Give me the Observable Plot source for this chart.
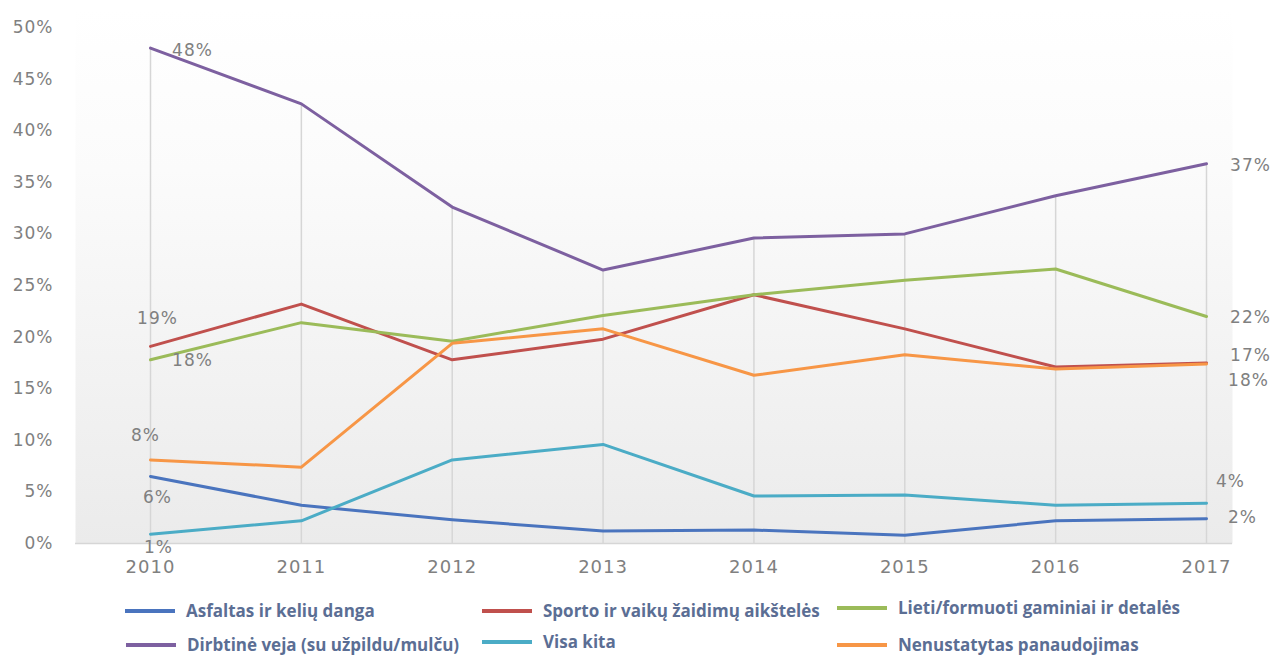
<!DOCTYPE html>
<html><head><meta charset="utf-8">
<script src="https://cdn.jsdelivr.net/npm/d3@7"></script>
<script src="https://cdn.jsdelivr.net/npm/@observablehq/plot@0.6"></script>
<style>
body{margin:0;background:#fff;}
#wrap{position:relative;width:1272px;height:657px;overflow:hidden;}
#legend{position:absolute;left:0;top:0;width:1272px;height:657px;pointer-events:none;}
.item{position:absolute;display:flex;align-items:center;height:22px;line-height:22px;font-family:"Open Sans";font-weight:700;font-size:17px;color:#5b6e94;white-space:nowrap;}
.sw{width:50px;height:4px;margin-right:11px;}
</style></head><body><div id="wrap"><div id="legend"></div></div>
<script>
// ---- data ----
const years = [2010, 2011, 2012, 2013, 2014, 2015, 2016, 2017];
const seriesNames = [
  "Asfaltas ir kelių danga",
  "Sporto ir vaikų žaidimų aikštelės",
  "Lieti/formuoti gaminiai ir detalės",
  "Dirbtinė veja (su užpildu/mulču)",
  "Visa kita",
  "Nenustatytas panaudojimas"
];
const asfaltas     = [6.5, 3.7, 2.3, 1.2, 1.3, 0.8, 2.2, 2.4];
const sporto       = [19.1, 23.2, 17.8, 19.8, 24.1, 20.8, 17.1, 17.5];
const lieti        = [17.8, 21.4, 19.6, 22.1, 24.1, 25.5, 26.6, 22.0];
const dirbtine     = [48.0, 42.6, 32.6, 26.5, 29.6, 30.0, 33.7, 36.8];
const visaKita     = [0.9, 2.2, 8.1, 9.6, 4.6, 4.7, 3.7, 3.9];
const nenustatytas = [8.1, 7.4, 19.4, 20.8, 16.3, 18.3, 16.9, 17.4];
const yTicks = [0, 5, 10, 15, 20, 25, 30, 35, 40, 45, 50];
// data labels: series index, year, text
const labelSeries = [3, 1, 2, 5, 0, 4, 3, 2, 1, 5, 4, 0];
const labelYears  = [2010, 2010, 2010, 2010, 2010, 2010, 2017, 2017, 2017, 2017, 2017, 2017];
const labelTexts  = ["48%", "19%", "18%", "8%", "6%", "1%", "37%", "22%", "17%", "18%", "4%", "2%"];

// ---- styling / layout ----
const colors = ["#4a74be", "#c0504d", "#9bbb59", "#7d60a0", "#4bacc6", "#f79646"];
const labelOffsets = [[42,2],[7,-28],[42,1],[-5,-24],[7,21],[8,13],[44,2],[44,1],[44,-7],[42,17],[24,-22],[36,-1]];

const seriesValues = [asfaltas, sporto, lieti, dirbtine, visaKita, nenustatytas];
const rows = [];
seriesValues.forEach((vals, s) => vals.forEach((v, i) => rows.push({series: seriesNames[s], year: years[i], value: v})));
const maxByYear = years.map((y, i) => d3.max(seriesValues, vals => vals[i]));

const W = 1272, H = 590;
const labelMarks = labelTexts.map((t, k) => {
  const s = labelSeries[k], yi = years.indexOf(labelYears[k]);
  return Plot.text([{x: labelYears[k], y: seriesValues[s][yi], t}], {
    x: "x", y: "y", text: "t", dx: labelOffsets[k][0], dy: labelOffsets[k][1],
    fill: "#808080", fontSize: 17
  });
});

const plot = Plot.plot({
  width: W, height: H,
  marginLeft: 75, marginRight: 40, marginTop: 8, marginBottom: H - 543,
  style: {fontFamily: "'DejaVu Sans'", fontSize: "17px", color: "#808080", letterSpacing: "1px", background: "white"},
  x: {domain: [2010, 2017], range: [150, 1206]},
  y: {domain: [0, 50], range: [543, 27]},
  color: {domain: seriesNames, range: colors},
  marks: [
    Plot.frame({fill: "url(#bggrad)", stroke: null}),
    Plot.ruleX(years, {x: d => d, y1: 0, y2: (d, i) => maxByYear[i], stroke: "#d6d6d6", strokeWidth: 1.5}),
    Plot.ruleY([0], {stroke: "#d6d6d6", strokeWidth: 1.5}),
    Plot.axisY({ticks: yTicks, tickFormat: d => d + "%", tickSize: 0, tickPadding: 22, fill: "#808080", fontSize: 17}),
    Plot.axisX({ticks: years, tickFormat: d => String(d), tickSize: 0, tickPadding: 17, fill: "#808080", fontSize: 18}),
    Plot.line(rows, {x: "year", y: "value", z: "series", stroke: "series", strokeWidth: 3, strokeLinejoin: "round"}),
    ...labelMarks
  ]
});
const svg = d3.select(plot);
const grad = svg.insert("defs", ":first-child").append("linearGradient")
  .attr("id", "bggrad").attr("x1", 0).attr("y1", 0).attr("x2", 0).attr("y2", 1);
grad.append("stop").attr("offset", "0%").attr("stop-color", "#ffffff");
grad.append("stop").attr("offset", "30%").attr("stop-color", "#fbfbfb");
grad.append("stop").attr("offset", "100%").attr("stop-color", "#ebebeb");
document.getElementById("wrap").prepend(plot);

// ---- legend ----
const legendPos = [[125, 600], [482, 600], [837, 597], [126, 634], [482, 631], [837, 634]];
const legend = document.getElementById("legend");
seriesNames.forEach((name, i) => {
  const item = document.createElement("div");
  item.className = "item";
  item.style.left = legendPos[i][0] + "px";
  item.style.top = legendPos[i][1] + "px";
  const sw = document.createElement("span");
  sw.className = "sw";
  sw.style.background = colors[i];
  const tx = document.createElement("span");
  tx.textContent = name;
  item.append(sw, tx);
  legend.append(item);
});
</script>
</body></html>
